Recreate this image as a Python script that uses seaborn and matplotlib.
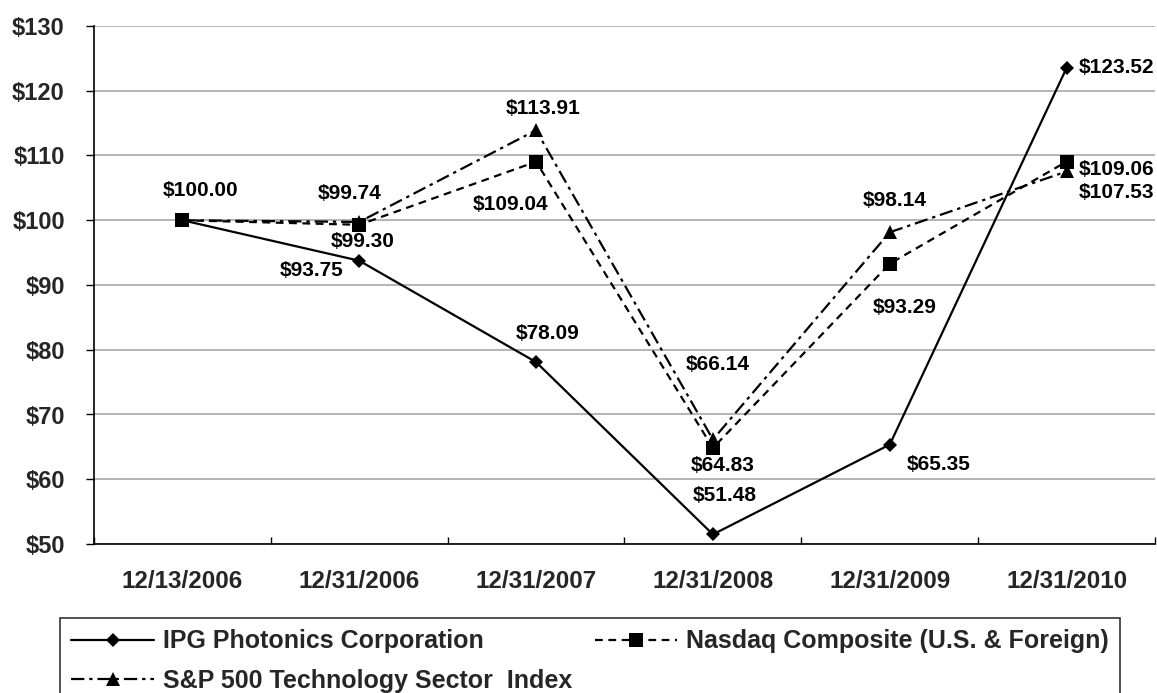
import matplotlib
matplotlib.use("Agg")
import matplotlib.pyplot as plt
import seaborn as sns
import pandas as pd
import numpy as np

# ---- data ----
categories = ["12/13/2006", "12/31/2006", "12/31/2007", "12/31/2008", "12/31/2009", "12/31/2010"]
ipg = [100.00, 93.75, 78.09, 51.48, 65.35, 123.52]
nasdaq = [100.00, 99.30, 109.04, 64.83, 93.29, 109.06]
sp_tech = [100.00, 99.74, 113.91, 66.14, 98.14, 107.53]
series_names = ["IPG Photonics Corporation", "Nasdaq Composite (U.S. & Foreign)",
                "S&P 500 Technology Sector  Index"]
yticks = [50, 60, 70, 80, 90, 100, 110, 120, 130]
ytick_labels = ["$50", "$60", "$70", "$80", "$90", "$100", "$110", "$120", "$130"]

# label offsets in pixels (dx, dy, ha); None = no label
ipg_lbl = [(18, 30, "center"), (-48, -10, "center"), (11, 29, "center"),
           (12, 39, "center"), (49, -20, "center"), (12, 0, "left")]
nasdaq_lbl = [None, (3, -17, "center"), (-26, -43, "center"),
              (10, -18, "center"), (15, -44, "center"), (12, -8, "left")]
sp_lbl = [None, (-10, 28, "center"), (7, 22, "center"),
          (5, 75, "center"), (5, 32, "center"), (12, -21, "left")]

sns.set_theme(style="white")
plt.rcParams["font.family"] = ["Liberation Sans", "DejaVu Sans"]
plt.rcParams["font.weight"] = "bold"

W, H = 1157, 693
fig = plt.figure(figsize=(W / 100, H / 100), dpi=100)
ax = fig.add_axes([94 / W, 1 - 544 / H, (1155 - 94) / W, (544 - 26) / H])

x = np.arange(len(categories))
df_ipg = pd.DataFrame({"x": x, "v": ipg})
df_nas = pd.DataFrame({"x": x, "v": nasdaq})
df_sp = pd.DataFrame({"x": x, "v": sp_tech})

ax.set_axisbelow(True)
ax.yaxis.grid(True, color="#a0a0a0", linewidth=1.1)
ax.xaxis.grid(False)

sns.lineplot(data=df_ipg, x="x", y="v", ax=ax, color="black", lw=1.6,
             marker="D", markersize=7.5, markeredgewidth=0, label=series_names[0],
             legend=False, zorder=3)
sns.lineplot(data=df_sp, x="x", y="v", ax=ax, color="black", lw=1.6,
             linestyle=(0, (6, 2.2, 1.5, 2.2)),
             marker="^", markersize=10, markeredgewidth=0, label=series_names[2],
             legend=False, zorder=3)
sns.lineplot(data=df_nas, x="x", y="v", ax=ax, color="black", lw=1.6,
             linestyle=(0, (3.5, 2.5)),
             marker="s", markersize=10, markeredgewidth=0, label=series_names[1],
             legend=False, zorder=4)

lbl_fs = 15
for vals, offs in [(ipg, ipg_lbl), (nasdaq, nasdaq_lbl), (sp_tech, sp_lbl)]:
    for i, (v, o) in enumerate(zip(vals, offs)):
        if o is None:
            continue
        dx, dy, ha = o
        ax.annotate(f"${v:.2f}", xy=(i, v), xytext=(dx, dy), textcoords="offset pixels",
                    ha=ha, va="center", fontsize=lbl_fs, fontweight="bold", color="black",
                    annotation_clip=False)

ax.set_xlim(-0.5, len(categories) - 0.5)
ax.set_ylim(50, 130)
ax.set_yticks(yticks)
ax.set_yticklabels(ytick_labels)
ax.set_xticks(x)
ax.set_xticklabels(categories)
ax.set_xticks(np.arange(-0.5, len(categories), 1.0), minor=True)
ax.set_xlabel("")
ax.set_ylabel("")

ax.tick_params(axis="y", which="major", direction="out", length=6, width=1,
               color="black", pad=15, labelsize=17, left=True)
ax.tick_params(axis="x", which="major", length=0, pad=19, labelsize=17.5)
ax.tick_params(axis="x", which="minor", direction="in", length=5, width=1,
               color="black", bottom=True)
for lab in ax.get_xticklabels() + ax.get_yticklabels():
    lab.set_fontweight("bold")

for s in ["top", "right"]:
    ax.spines[s].set_visible(False)
for s in ["left", "bottom"]:
    ax.spines[s].set_visible(True)
    ax.spines[s].set_color("black")
    ax.spines[s].set_linewidth(1.2)

lines = ax.get_lines()
handles = [lines[0], lines[1], lines[2]]
labels = [series_names[0], series_names[2], series_names[1]]
leg = fig.legend(handles, labels, ncol=2, loc="upper left",
                 bbox_to_anchor=(60 / W, 1 - 618 / H),
                 prop={"size": 18, "weight": "bold"},
                 frameon=True, fancybox=False, edgecolor="black",
                 handlelength=3.3, handletextpad=0.36, columnspacing=0.9,
                 borderpad=0.45, labelspacing=0.62, borderaxespad=0)
leg.get_frame().set_linewidth(1.2)

fig.savefig("out.png", dpi=100)
